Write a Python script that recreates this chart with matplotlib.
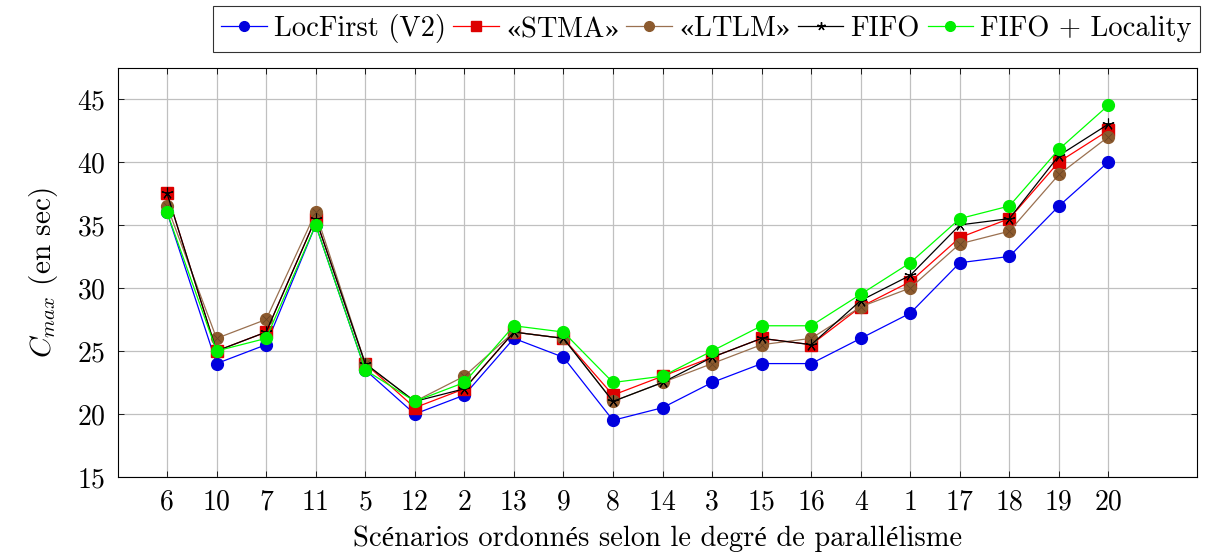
import matplotlib
matplotlib.use("Agg")
import matplotlib.pyplot as plt
from matplotlib.lines import Line2D

plt.rcParams['font.family'] = ['cmr10', 'Liberation Serif']
plt.rcParams['mathtext.fontset'] = 'custom'
plt.rcParams['mathtext.rm'] = 'cmr10'
plt.rcParams['mathtext.it'] = 'cmmi10'
plt.rcParams['mathtext.bf'] = 'cmb10'
plt.rcParams['mathtext.sf'] = 'Liberation Serif'
plt.rcParams['axes.formatter.use_mathtext'] = True

scenarios = ['6', '10', '7', '11', '5', '12', '2', '13', '9', '8',
             '14', '3', '15', '16', '4', '1', '17', '18', '19', '20']

locfirst = [36, 24, 25.5, 35, 23.5, 20, 21.5, 26, 24.5, 19.5,
            20.5, 22.5, 24, 24, 26, 28, 32, 32.5, 36.5, 40]
stma = [37.5, 25, 26.5, 35.5, 24, 20.5, 22, 26.5, 26, 21.5,
        23, 24.5, 26, 25.5, 28.5, 30.5, 34, 35.5, 40, 42.5]
ltlm = [36.5, 26, 27.5, 36, 24, 21, 23, 26.5, 26, 21,
        22.5, 24, 25.5, 26, 28.5, 30, 33.5, 34.5, 39, 42]
fifo = [37.5, 25, 26.5, 35.5, 24, 21, 22, 26.5, 26, 21,
        22.5, 24.5, 26, 25.5, 29, 31, 35, 35.5, 40.5, 43]
fifo_loc = [36, 25, 26, 35, 23.5, 21, 22.5, 27, 26.5, 22.5,
            23, 25, 27, 27, 29.5, 32, 35.5, 36.5, 41, 44.5]

labels = ['LocFirst (V2)', r'$\mathsf{«}$STMA$\mathsf{»}$',
          r'$\mathsf{«}$LTLM$\mathsf{»}$', 'FIFO', 'FIFO + Locality']

fig = plt.figure(figsize=(12.1, 5.56), dpi=100)
ax = fig.add_axes([0.0975, 0.142, 0.8915, 0.736])

x = list(range(len(scenarios)))
lw = 0.9
ms = 8.5
star = (5, 2, 0)

ax.plot(x, locfirst, color='#0000ff', lw=lw, marker='o', ms=ms,
        mfc='#0000dd', mec='#0000dd', zorder=3)
ax.plot(x, stma, color='#ff0000', lw=lw, marker='s', ms=ms,
        mfc='#dd0000', mec='#dd0000', zorder=3)
ax.plot(x, ltlm, color='#9a7050', lw=lw, marker='o', ms=ms,
        mfc='#8c5a2e', mec='#8c5a2e', zorder=3)
ax.plot(x, ltlm, ls='none', marker='x', ms=ms * 0.62, mew=0.6,
        mec='#6b4525', zorder=3.1)
ax.plot(x, fifo, color='black', lw=lw, marker=star, ms=ms * 1.0,
        mew=0.8, mec='black', zorder=3.2)
ax.plot(x, fifo_loc, color='#00ff00', lw=lw, marker='o', ms=ms,
        mfc='#00ee00', mec='#00ee00', zorder=3.3)

ax.set_xlim(-0.99, 20.78)
ax.set_ylim(15, 47.46)
ax.set_xticks(x)
ax.set_xticklabels(scenarios)
ax.set_yticks([15, 20, 25, 30, 35, 40, 45])
ax.tick_params(direction='in', length=4, labelsize=20, width=0.6,
               top=True, right=True, pad=9)
ax.grid(True, color='#c0c0c0', lw=0.9)
ax.set_axisbelow(True)
for s in ax.spines.values():
    s.set_linewidth(0.8)

ax.set_xlabel('Scénarios ordonnés selon le degré de parallélisme', fontsize=20.5, labelpad=7)
ax.set_ylabel(r'$C_{max}$ (en sec)', fontsize=21, labelpad=12)

handles = [
    Line2D([], [], color='#0000ff', lw=lw, marker='o', ms=7, mfc='#0000dd', mec='#0000dd'),
    Line2D([], [], color='#ff0000', lw=lw, marker='s', ms=7, mfc='#dd0000', mec='#dd0000'),
    Line2D([], [], color='#9a7050', lw=lw, marker='o', ms=7, mfc='#8c5a2e', mec='#8c5a2e'),
    Line2D([], [], color='black', lw=lw, marker=star, ms=6, mec='black'),
    Line2D([], [], color='#00ff00', lw=lw, marker='o', ms=7, mfc='#00ee00', mec='#00ee00'),
]
leg = fig.legend(handles, labels, loc='upper right', bbox_to_anchor=(0.992, 0.99),
                 ncol=5, fontsize=20.5, frameon=True, fancybox=False,
                 handlelength=1.6, handletextpad=0.25, columnspacing=0.27,
                 borderpad=0.3, borderaxespad=0)
leg.get_frame().set_edgecolor('black')
leg.get_frame().set_linewidth(0.8)

fig.savefig('out.png', dpi=100)
